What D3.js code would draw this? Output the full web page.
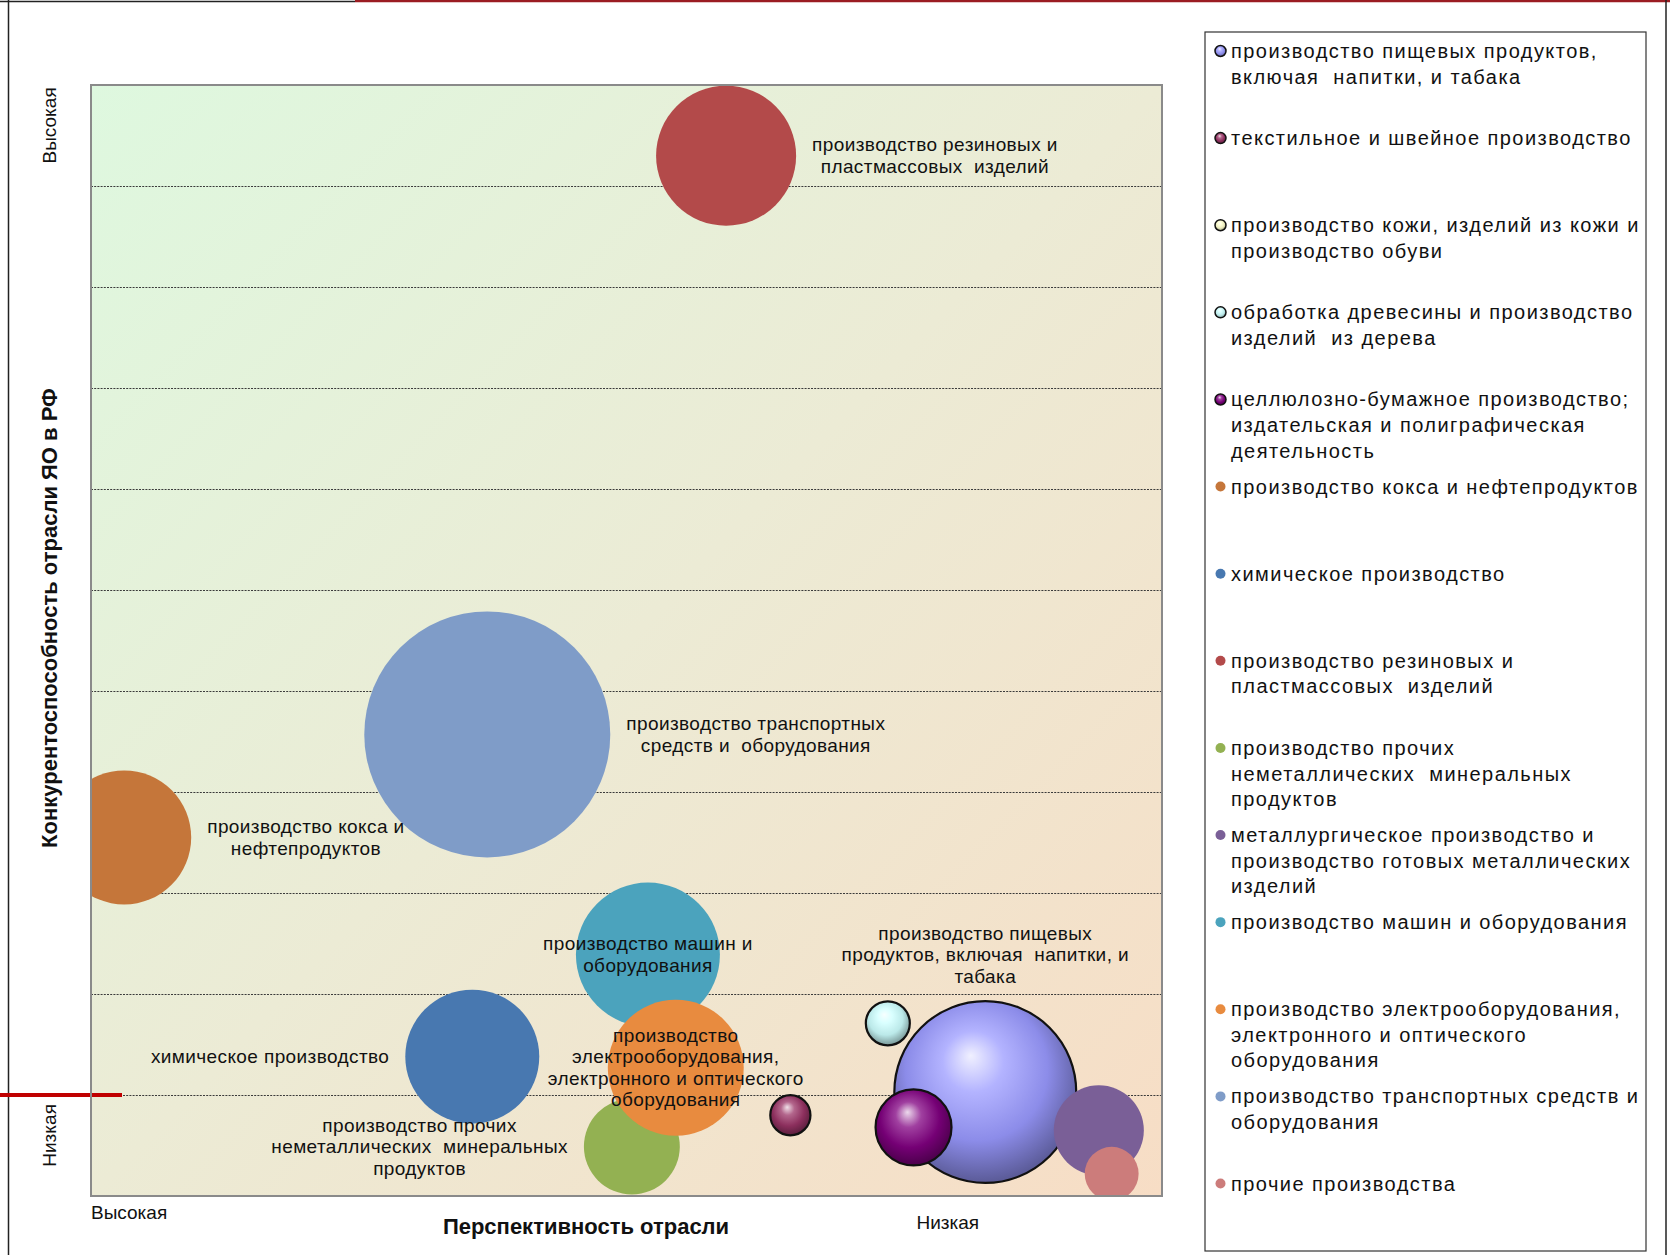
<!DOCTYPE html>
<html>
<head>
<meta charset="utf-8">
<script src="https://cdn.jsdelivr.net/npm/d3@7"></script>
<style>
  body { margin: 0; background: #fff; }
  svg { display: block; }
  text { font-family: "Liberation Sans", Arial, sans-serif; fill: #111; white-space: pre; }
</style>
</head>
<body>
<svg id="chart" width="1670" height="1255"></svg>
<script>
// ---- data (legend order) ----
var industries = [
  ["производство пищевых продуктов,", "включая  напитки, и табака"],
  ["текстильное и швейное производство"],
  ["производство кожи, изделий из кожи и", "производство обуви"],
  ["обработка древесины и производство", "изделий  из дерева"],
  ["целлюлозно-бумажное производство;", "издательская и полиграфическая", "деятельность"],
  ["производство кокса и нефтепродуктов"],
  ["химическое производство"],
  ["производство резиновых и", "пластмассовых  изделий"],
  ["производство прочих", "неметаллических  минеральных", "продуктов"],
  ["металлургическое производство и", "производство готовых металлических", "изделий"],
  ["производство машин и оборудования"],
  ["производство электрооборудования,", "электронного и оптического", "оборудования"],
  ["производство транспортных средств и", "оборудования"],
  ["прочие производства"]
];
// perspective of the industry (x), competitiveness (y), bubble size
var perspective     = [8.35, 6.53, null, 7.44, 7.68, 0.31, 3.56, 5.93, 5.05, 9.41, 5.20, 5.46, 3.70, 9.53];
var competitiveness = [1.03, 0.80, null, 1.71, 0.68, 3.55, 1.38, 10.30, 0.49, 0.65, 2.39, 1.27, 4.57, 0.22];
var volume          = [82, 4.0, null, 4.8, 14.3, 44.5, 44.5, 48.6, 22.8, 20.1, 51.4, 45.8, 150, 7.2];

// data labels on the plot
var bubbleLabels = [
  ["производство пищевых", "продуктов, включая  напитки, и", "табака"],
  null, null, null, null,
  ["производство кокса и", "нефтепродуктов"],
  ["химическое производство"],
  ["производство резиновых и", "пластмассовых  изделий"],
  ["производство прочих", "неметаллических  минеральных", "продуктов"],
  null,
  ["производство машин и", "оборудования"],
  ["производство", "электрооборудования,", "электронного и оптического", "оборудования"],
  ["производство транспортных", "средств и  оборудования"],
  null
];
var labelSide = ["above", null, null, null, null, "right", "left", "right", "left", null, "center", "center", "right", null];

var xTickValues = [0, 8];
var xTickLabels = ["Высокая", "Низкая"];
var yTickValues = [10.6, 0.6];
var yTickLabels = ["Высокая", "Низкая"];

// ---- styles ----
var colors = ["#9999FF", "#993366", "#FFFFCC", "#CCFFFF", "#800080", "#C5763A", "#4878B0", "#B34A4A",
              "#93B152", "#7A5F97", "#4BA3BD", "#E88B3F", "#7F9CC8", "#CC7C7B"];
var shaded = [true, true, true, true, true, false, false, false, false, false, false, false, false, false];

var W = 1670, H = 1255;
var plot = {left: 91, top: 85, right: 1162, bottom: 1196};

var svg = d3.select("#chart");
var defs = svg.append("defs");

var x = d3.scaleLinear().domain([0, 10]).range([plot.left, plot.right]);
var y = d3.scaleLinear().domain([0, 11]).range([plot.bottom, plot.top]);
var r = d3.scaleSqrt().domain([0, 150]).range([0, 123]);

// background gradient of the plot area
var bg = defs.append("linearGradient").attr("id", "bg")
  .attr("x1", "0").attr("y1", "0").attr("x2", "1").attr("y2", "1");
bg.append("stop").attr("offset", "0%").attr("stop-color", "#DEF8DF");
bg.append("stop").attr("offset", "50%").attr("stop-color", "#ECEBD5");
bg.append("stop").attr("offset", "100%").attr("stop-color", "#F7DDC5");

// sphere gradients
colors.forEach(function(c, i) {
  if (!shaded[i]) return;
  var base = d3.color(c);
  var g = defs.append("radialGradient").attr("id", "sph" + i)
    .attr("cx", "0.47").attr("cy", "0.42").attr("r", "0.6")
    .attr("fx", "0.42").attr("fy", "0.3");
  g.append("stop").attr("offset", "0%").attr("stop-color", d3.interpolateRgb(c, "#fff")(0.85));
  g.append("stop").attr("offset", "28%").attr("stop-color", d3.interpolateRgb(c, "#fff")(0.25));
  g.append("stop").attr("offset", "65%").attr("stop-color", base.darker(0.25));
  g.append("stop").attr("offset", "100%").attr("stop-color", base.darker(1.6));
});

defs.append("clipPath").attr("id", "plotclip").append("rect")
  .attr("x", plot.left).attr("y", plot.top)
  .attr("width", plot.right - plot.left).attr("height", plot.bottom - plot.top);

// outer frame
svg.append("line").attr("x1", 0).attr("x2", 355).attr("y1", 1.5).attr("y2", 1.5)
  .attr("stroke", "#222").attr("stroke-width", 1.5);
svg.append("line").attr("x1", 355).attr("x2", W).attr("y1", 1).attr("y2", 1)
  .attr("stroke", "#9B1C22").attr("stroke-width", 2.5);
svg.append("line").attr("x1", 8.5).attr("x2", 8.5).attr("y1", 0).attr("y2", H)
  .attr("stroke", "#222").attr("stroke-width", 1.5);
svg.append("line").attr("x1", 1666).attr("x2", 1666).attr("y1", 0).attr("y2", H)
  .attr("stroke", "#222").attr("stroke-width", 1.5);

// plot area
svg.append("rect")
  .attr("x", plot.left).attr("y", plot.top)
  .attr("width", plot.right - plot.left).attr("height", plot.bottom - plot.top)
  .attr("fill", "url(#bg)");

// gridlines
svg.append("g").attr("transform", "translate(" + plot.left + ",0)")
  .call(d3.axisLeft(y).tickValues(d3.range(1, 11)).tickSize(-(plot.right - plot.left)).tickFormat(""))
  .call(function(g) { g.select(".domain").remove(); })
  .selectAll("line")
  .attr("stroke", "#3a3a3a").attr("stroke-width", 1).attr("stroke-dasharray", "2,1.2");

// red marker at the low boundary
svg.append("line").attr("x1", 0).attr("x2", 122).attr("y1", y(1)).attr("y2", y(1))
  .attr("stroke", "#C00000").attr("stroke-width", 4);

// bubbles
var idx = d3.range(industries.length).filter(function(i) { return volume[i] != null; });
svg.append("g").attr("clip-path", "url(#plotclip)")
  .selectAll("circle").data(idx).enter().append("circle")
  .attr("cx", function(i) { return x(perspective[i]); })
  .attr("cy", function(i) { return y(competitiveness[i]); })
  .attr("r", function(i) { return r(volume[i]); })
  .attr("fill", function(i) { return shaded[i] ? "url(#sph" + i + ")" : colors[i]; })
  .attr("stroke", function(i) { return shaded[i] ? "#111" : "none"; })
  .attr("stroke-width", 2.2);

// plot border
svg.append("rect")
  .attr("x", plot.left).attr("y", plot.top)
  .attr("width", plot.right - plot.left).attr("height", plot.bottom - plot.top)
  .attr("fill", "none").attr("stroke", "#8a8a8a").attr("stroke-width", 2);

// data labels
var lh = 21.5, gap = 16;
idx.forEach(function(i) {
  if (!bubbleLabels[i]) return;
  var lines = bubbleLabels[i];
  var t = svg.append("text").attr("text-anchor", "middle")
    .style("font-size", "19px").style("letter-spacing", "0.4px");
  t.selectAll("tspan").data(lines).enter().append("tspan")
    .attr("x", 0)
    .attr("y", function(d, k) { return (k - (lines.length - 1) / 2) * lh; })
    .attr("dominant-baseline", "central")
    .text(function(d) { return d; });
  var w = t.node().getBBox().width;
  var cx = x(perspective[i]), cy = y(competitiveness[i]), rr = r(volume[i]);
  var tx = cx, ty = cy;
  if (labelSide[i] == "right") tx = cx + rr + gap + w / 2;
  if (labelSide[i] == "left") tx = cx - rr - gap - w / 2;
  if (labelSide[i] == "above") ty = cy - rr - 14 - lines.length * lh / 2;
  t.attr("transform", "translate(" + tx + "," + ty + ")");
});

// axis labels
svg.selectAll(".xtick").data(xTickValues).enter().append("text")
  .attr("x", function(d) { return x(d); })
  .attr("y", function(d, k) { return k == 0 ? 1219 : 1229; })
  .attr("text-anchor", function(d, k) { return k == 0 ? "start" : "middle"; })
  .style("font-size", "19px")
  .text(function(d, k) { return xTickLabels[k]; });

svg.selectAll(".ytick").data(yTickValues).enter().append("text")
  .attr("transform", function(d) { return "translate(56," + y(d) + ") rotate(-90)"; })
  .attr("text-anchor", "middle")
  .style("font-size", "19px")
  .text(function(d, k) { return yTickLabels[k]; });

svg.append("text")
  .attr("x", 586).attr("y", 1234)
  .attr("text-anchor", "middle")
  .style("font-size", "22px").style("font-weight", "bold")
  .text("Перспективность отрасли");

svg.append("text")
  .attr("transform", "translate(57,618) rotate(-90)")
  .attr("text-anchor", "middle")
  .style("font-size", "22px").style("font-weight", "bold")
  .text("Конкурентоспособность отрасли ЯО в РФ");

// legend
var legend = svg.append("g");
legend.append("rect")
  .attr("x", 1205).attr("y", 32).attr("width", 441).attr("height", 1219)
  .attr("fill", "#fff").attr("stroke", "#333").attr("stroke-width", 1.2);

var ly = d3.scaleLinear().domain([0, industries.length - 1]).range([51, 1183.5]);
var item = legend.selectAll(".item").data(industries).enter().append("g")
  .attr("transform", function(d, i) { return "translate(0," + ly(i) + ")"; });

item.append("circle")
  .attr("cx", 1220.5).attr("cy", 0)
  .attr("r", function(d, i) { return shaded[i] ? 5.5 : 5; })
  .attr("fill", function(d, i) { return shaded[i] ? "url(#sph" + i + ")" : colors[i]; })
  .attr("stroke", function(d, i) { return shaded[i] ? "#111" : "none"; })
  .attr("stroke-width", 1.5);

item.append("text")
  .style("font-size", "20px").style("letter-spacing", "1.45px")
  .selectAll("tspan").data(function(d) { return d; }).enter().append("tspan")
  .attr("x", 1231)
  .attr("y", function(d, k) { return k * 25.6; })
  .attr("dominant-baseline", "central")
  .text(function(d) { return d; });
</script>
</body>
</html>
